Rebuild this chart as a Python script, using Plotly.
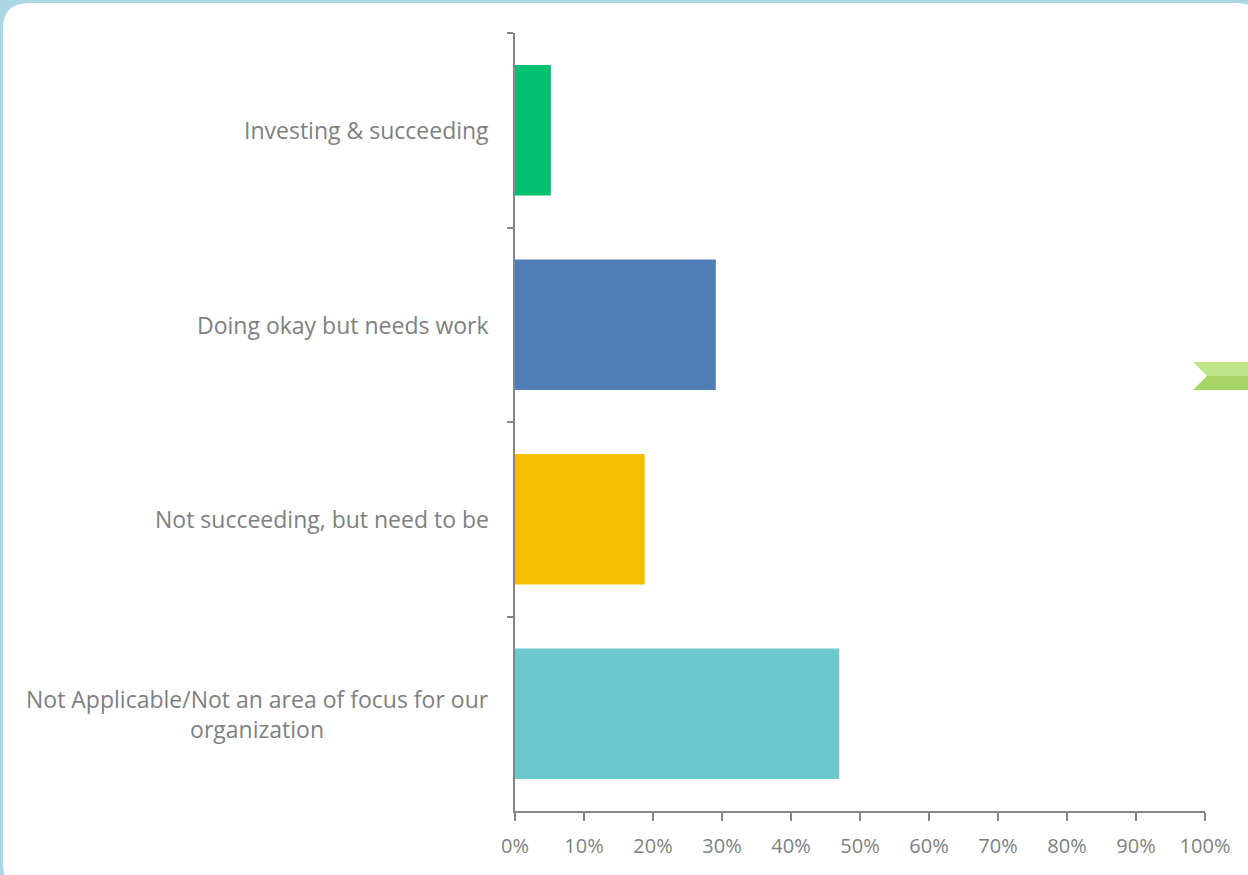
import plotly.graph_objects as go

# Survey responses (share of respondents)
categories = [
    "Investing & succeeding",
    "Doing okay but needs work",
    "Not succeeding, but need to be",
    "Not Applicable/Not an area of focus for our<br>organization",
]
shares = [0.052, 0.291, 0.188, 0.470]
bar_colors = ["#00BF6F", "#4F7DB6", "#F7BE00", "#6CC8CC"]
x_ticks = [i / 10 for i in range(11)]
x_tick_labels = [f"{i * 10}%" for i in range(11)]

W, H = 1248, 875
M_L, M_R, M_T, M_B = 515, 43, 33, 64
PW, PH = W - M_L - M_R, H - M_T - M_B

def px(x):
    return (x - M_L) / PW

def py(y):
    return (H - M_B - y) / PH

TEXT = "#7F7F7F"
AXIS = "#868686"
FONT = "Open Sans, Noto Sans, sans-serif"

fig = go.Figure(
    go.Bar(
        y=categories,
        x=shares,
        orientation="h",
        marker=dict(color=bar_colors, line=dict(width=0)),
        width=0.67,
        hoverinfo="skip",
    )
)

# Rounded white card on a light blue backdrop
r = 26
x0, y0, x1, y1 = 3, 3, 1262, 890
card = (
    f"M {px(x0 + r)},{py(y0)} L {px(x1 - r)},{py(y0)} "
    f"Q {px(x1)},{py(y0)} {px(x1)},{py(y0 + r)} "
    f"L {px(x1)},{py(y1 - r)} Q {px(x1)},{py(y1)} {px(x1 - r)},{py(y1)} "
    f"L {px(x0 + r)},{py(y1)} Q {px(x0)},{py(y1)} {px(x0)},{py(y1 - r)} "
    f"L {px(x0)},{py(y0 + r)} Q {px(x0)},{py(y0)} {px(x0 + r)},{py(y0)} Z"
)

# Green chevron tab on the right edge (two tones for a soft gradient)
chevron_top = (
    f"M {px(1193)},{py(362)} L {px(1250)},{py(362)} L {px(1250)},{py(376)} "
    f"L {px(1207)},{py(376)} Z"
)
chevron_bottom = (
    f"M {px(1207)},{py(376)} L {px(1250)},{py(376)} L {px(1250)},{py(390)} "
    f"L {px(1193)},{py(390)} Z"
)

shapes = [
    dict(type="path", xref="paper", yref="paper", path=card,
         fillcolor="white", line=dict(width=0), layer="below"),
    dict(type="path", xref="paper", yref="paper", path=chevron_top,
         fillcolor="#C0E488", line=dict(width=0), layer="above"),
    dict(type="path", xref="paper", yref="paper", path=chevron_bottom,
         fillcolor="#A6D366", line=dict(width=0), layer="above"),
]

# Category labels, centred across wrapped lines
annotations = []
for cat in categories:
    annotations.append(
        dict(
            x=px(491), xref="paper", y=cat, yref="y",
            text=cat, showarrow=False, xanchor="right", yanchor="middle",
            align="center", font=dict(family=FONT, size=23, color=TEXT),
        )
    )

fig.update_layout(
    width=W, height=H,
    margin=dict(l=M_L, r=M_R, t=M_T, b=M_B, pad=0),
    paper_bgcolor="#AAD6E6",
    plot_bgcolor="rgba(0,0,0,0)",
    font=dict(family=FONT, size=20, color=TEXT),
    showlegend=False,
    shapes=shapes,
    annotations=annotations,
    bargap=0.33,
)

fig.update_xaxes(
    range=[0, 1],
    tickvals=x_ticks,
    ticktext=x_tick_labels,
    ticks="outside", ticklen=8, tickwidth=1.5, tickcolor=AXIS,
    ticklabelstandoff=8,
    showline=True, linecolor=AXIS, linewidth=1.5,
    showgrid=False, zeroline=False,
    tickfont=dict(family=FONT, size=20, color=TEXT),
)

fig.update_yaxes(
    type="category",
    categoryorder="array", categoryarray=categories,
    autorange="reversed",
    tickson="boundaries",
    ticks="outside", ticklen=6, tickwidth=1.5, tickcolor=AXIS,
    showticklabels=False,
    showline=True, linecolor=AXIS, linewidth=1.5,
    showgrid=False, zeroline=False,
)

fig.write_html("out.html")
